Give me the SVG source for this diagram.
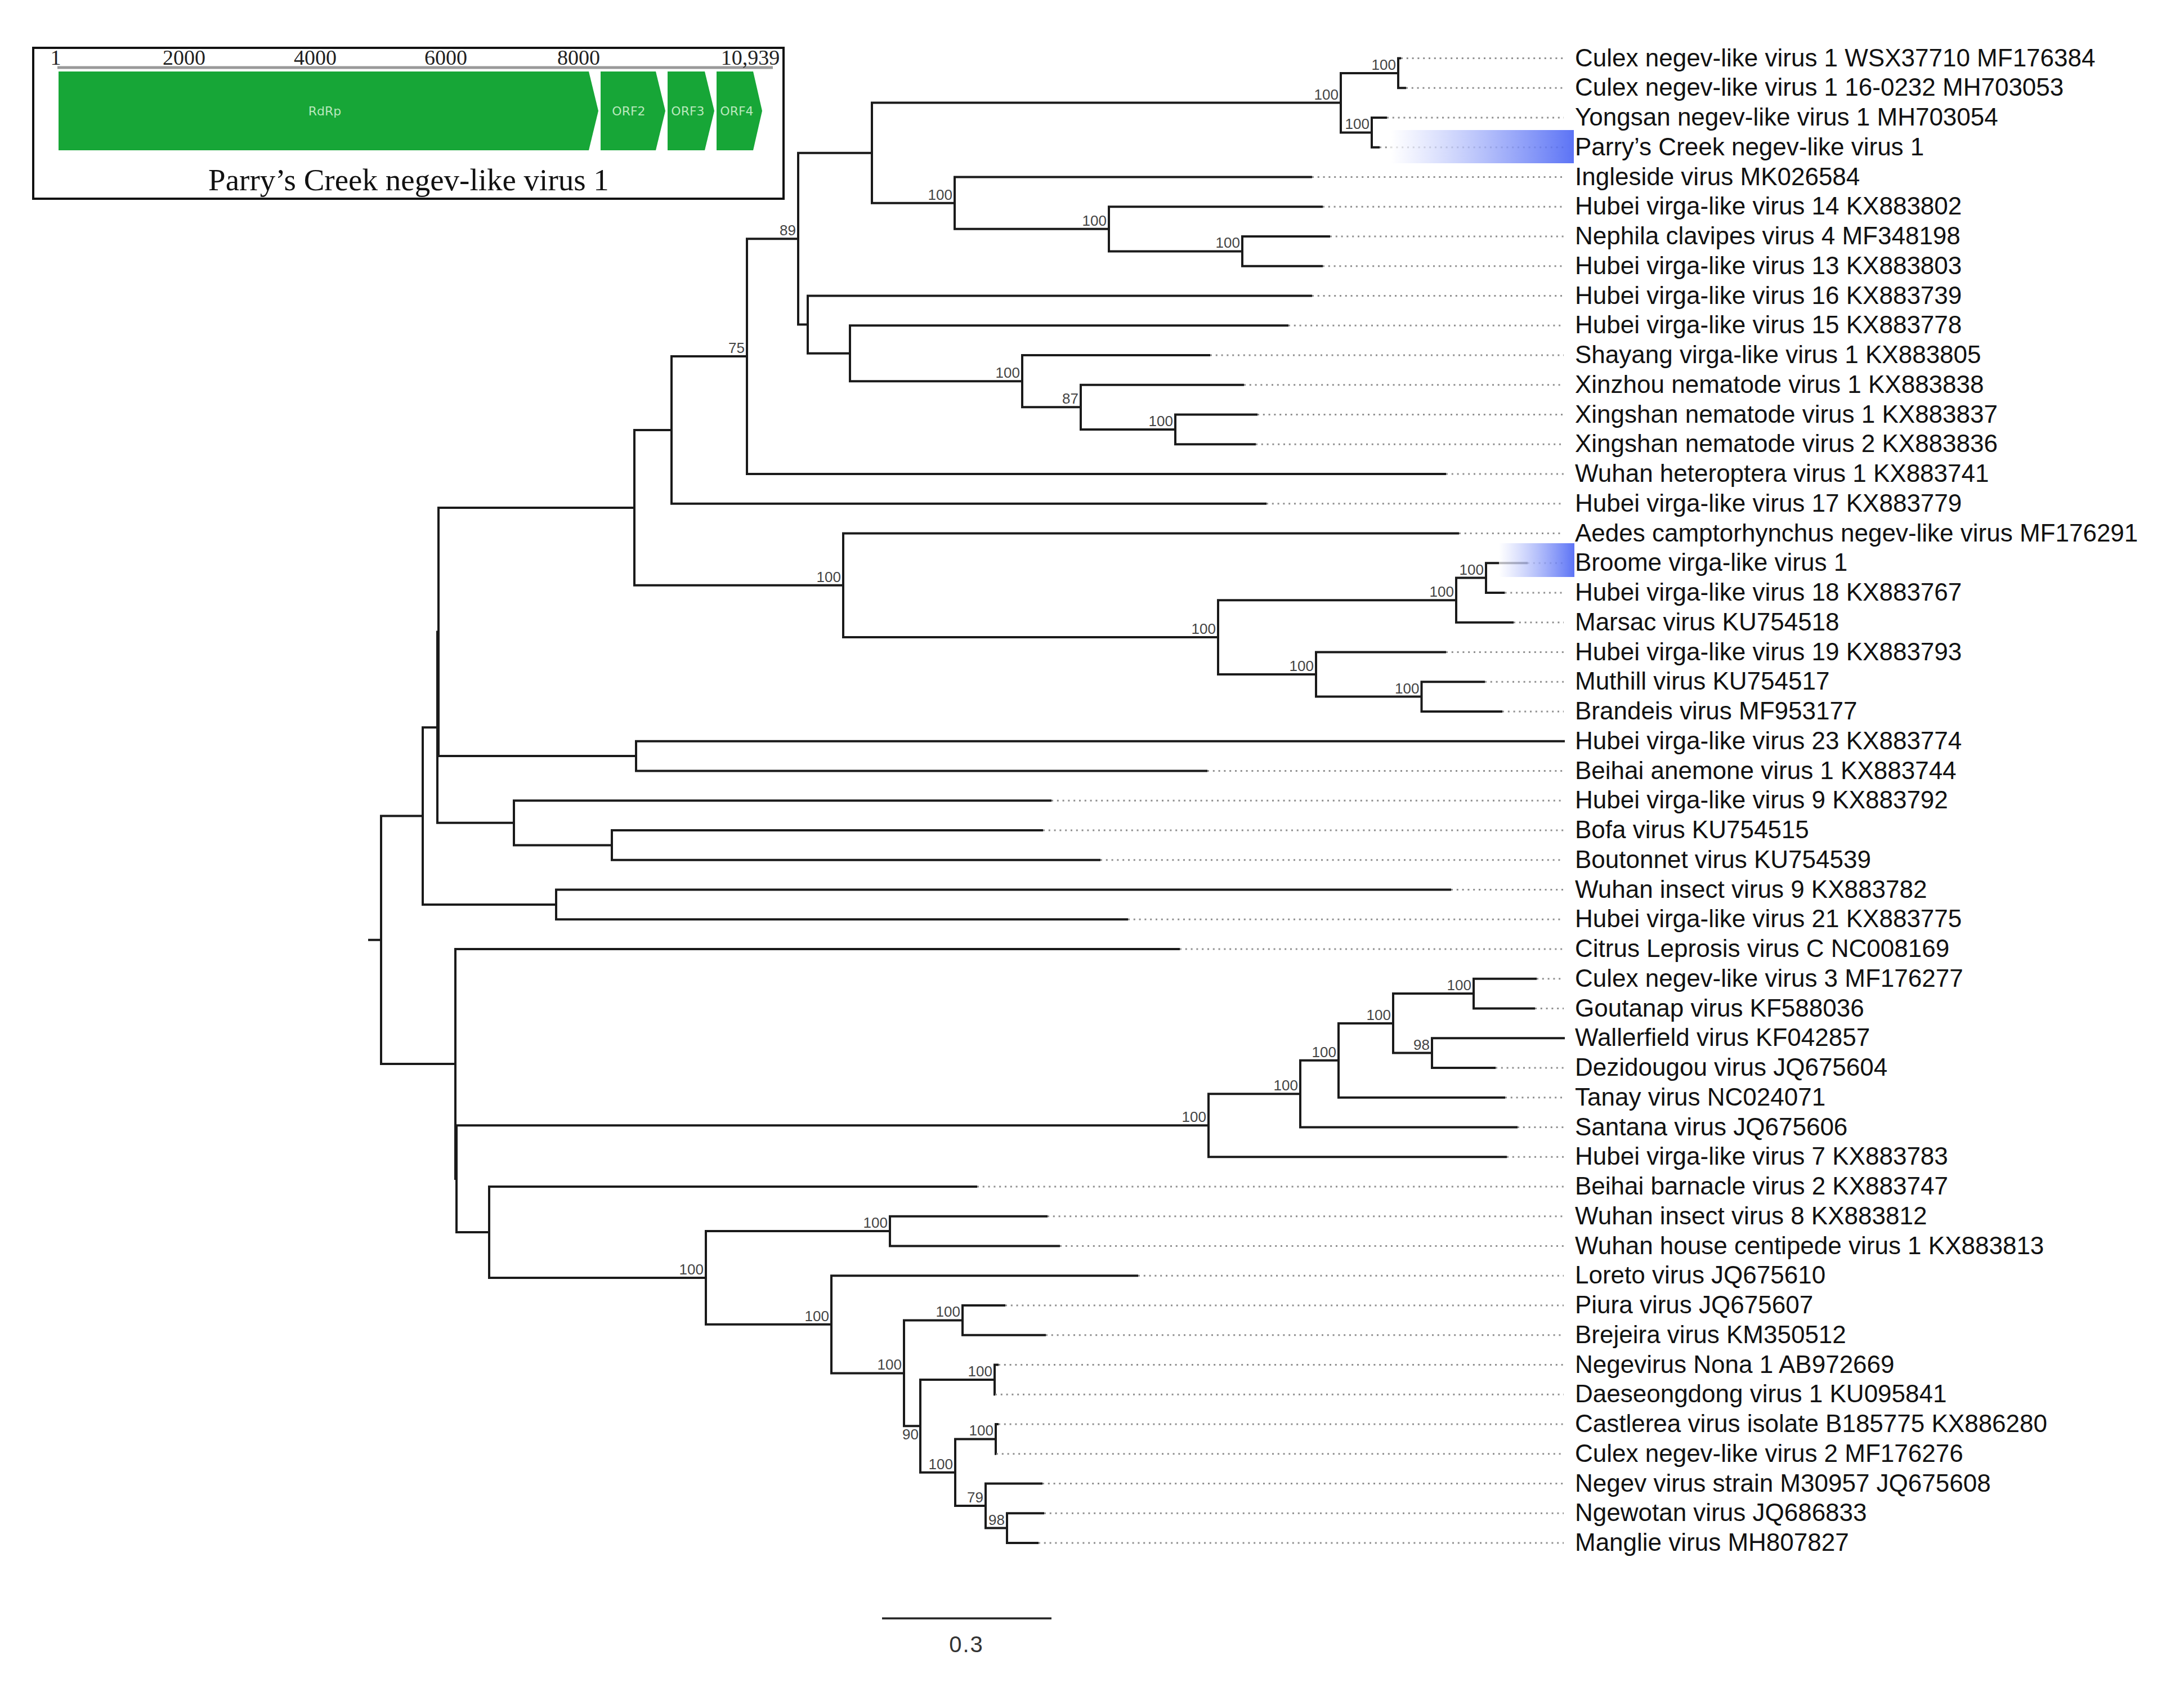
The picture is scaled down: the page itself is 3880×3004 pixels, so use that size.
<svg xmlns="http://www.w3.org/2000/svg" width="3880" height="3004" viewBox="0 0 3880 3004">
<style>
.br{fill:none;stroke:#1a1a1a;stroke-width:4;stroke-linejoin:miter;stroke-linecap:butt}
.dot{fill:none;stroke:#8f8f8f;stroke-width:3;stroke-dasharray:3 6.8}
.lab{font-family:"Liberation Sans",Arial,sans-serif;font-size:44px;fill:#111}
.bs{font-family:"Liberation Sans",Arial,sans-serif;font-size:26px;fill:#444;text-anchor:end}
.tick{font-family:"Liberation Serif","Times New Roman",serif;font-size:38px;fill:#222;text-anchor:middle}
.gene{fill:#17a637}
.gl{font-family:"DejaVu Sans",sans-serif;font-size:22px;fill:#b9e8bd;text-anchor:middle}
</style>
<defs>
<linearGradient id="hl" x1="0" y1="0" x2="1" y2="0">
<stop offset="0" stop-color="#ffffff" stop-opacity="0.7"/>
<stop offset="1" stop-color="#4a64f4" stop-opacity="0.9"/>
</linearGradient>
</defs>
<rect width="3880" height="3004" fill="#ffffff"/>

<g id="inset">
<rect x="59" y="85" width="1333" height="268" fill="#ffffff" stroke="#111" stroke-width="4"/>
<line x1="102" y1="120" x2="1373" y2="120" stroke="#999" stroke-width="5"/>
<text class="tick" x="99" y="115">1</text>
<text class="tick" x="327" y="115">2000</text>
<text class="tick" x="560" y="115">4000</text>
<text class="tick" x="792" y="115">6000</text>
<text class="tick" x="1028" y="115">8000</text>
<text class="tick" x="1333" y="115">10,939</text>
<polygon class="gene" points="104,127 1046,127 1063,197 1046,267 104,267"/>
<polygon class="gene" points="1067,127 1165,127 1182,197 1165,267 1067,267"/>
<polygon class="gene" points="1186,127 1252,127 1269,197 1252,267 1186,267"/>
<polygon class="gene" points="1273,127 1338,127 1354,197 1338,267 1273,267"/>
<text class="gl" x="577" y="205">RdRp</text>
<text class="gl" x="1117" y="205">ORF2</text>
<text class="gl" x="1222" y="205">ORF3</text>
<text class="gl" x="1309" y="205">ORF4</text>
<text x="726" y="338" font-family="Liberation Serif,'Times New Roman',serif" font-size="55" fill="#111" text-anchor="middle">Parry’s Creek negev-like virus 1</text>
</g>

<g id="connectors">
<path class="br" d="M654 1669.8H677 M751 1449.5H677V1890H809"/>
<path class="br" d="M2489 103.5H2484V156.25H2498"/>
<path class="br" d="M2464 209H2437V261.75H2451"/>
<path class="br" d="M2484 129.9H2382V235.4H2437"/>
<path class="br" d="M2363 420H2207V472.75H2350"/>
<path class="br" d="M2350 367.25H1970V446.4H2207"/>
<path class="br" d="M2331 314.5H1696V406.8H1970"/>
<path class="br" d="M2382 182.6H1549V360.7H1696"/>
<path class="br" d="M2234 736.5H2088V789.25H2231"/>
<path class="br" d="M2210 683.75H1920V762.9H2088"/>
<path class="br" d="M2150 631H1816V723.3H1920"/>
<path class="br" d="M2289 578.25H1510V677.2H1816"/>
<path class="br" d="M2331 525.5H1435V627.7H1510"/>
<path class="br" d="M1549 271.7H1418V576.6H1435"/>
<path class="br" d="M1418 424.2H1327V842H2569"/>
<path class="br" d="M1327 633.1H1193V894.75H2250"/>
<path class="br" d="M2714 1000.25H2640V1053H2673.5"/>
<path class="br" d="M2640 1026.6H2587V1105.75H2689"/>
<path class="br" d="M2638 1211.25H2525.5V1264H2669"/>
<path class="br" d="M2569 1158.5H2338V1237.6H2525.5"/>
<path class="br" d="M2587 1066.2H2164V1198.1H2338"/>
<path class="br" d="M2592 947.5H1498V1132.1H2164"/>
<path class="br" d="M1193 763.9H1127V1039.8H1498"/>
<path class="br" d="M2780 1316.75H1130V1369.5H2145"/>
<path class="br" d="M1127 901.9H779V1343.1H1130"/>
<path class="br" d="M1853 1475H1087V1527.75H1955"/>
<path class="br" d="M1868 1422.25H913V1501.4H1087"/>
<path class="br" d="M779 1122.5H777V1461.8H913"/>
<path class="br" d="M2578 1580.5H988V1633.25H2004"/>
<path class="br" d="M777 1292.2H751V1606.9H988"/>
<path class="br" d="M2730 1738.75H2618V1791.5H2727"/>
<path class="br" d="M2780 1844.25H2544V1897H2657"/>
<path class="br" d="M2618 1765.1H2475V1870.6H2544"/>
<path class="br" d="M2475 1817.9H2378V1949.75H2674"/>
<path class="br" d="M2378 1883.8H2310V2002.5H2696"/>
<path class="br" d="M2310 1943.2H2147V2055.25H2677"/>
<path class="br" d="M1861 2160.75H1581V2213.5H1883"/>
<path class="br" d="M1786 2319H1710V2371.75H1858"/>
<path class="br" d="M1774 2424.5H1767V2477.25H1768"/>
<path class="br" d="M1774 2530H1769V2582.75H1770"/>
<path class="br" d="M1855 2688.25H1789V2741H1845"/>
<path class="br" d="M1852 2635.5H1751V2714.6H1789"/>
<path class="br" d="M1769 2556.4H1697V2675.1H1751"/>
<path class="br" d="M1767 2450.9H1635V2615.8H1697"/>
<path class="br" d="M1710 2345.4H1606V2533.3H1635"/>
<path class="br" d="M2022 2266.25H1477V2439.4H1606"/>
<path class="br" d="M1581 2187.1H1254V2352.8H1477"/>
<path class="br" d="M1736 2108H869V2270H1254"/>
<path class="br" d="M2147 1999.2H811V2189H869"/>
<path class="br" d="M2096 1686H809V2094.1H811"/>
<path class="dot" d="M2489 103.5H2778 M2498 156.25H2778 M2464 209H2778 M2451 261.75H2778 M2331 314.5H2778 M2350 367.25H2778 M2363 420H2778 M2350 472.75H2778 M2331 525.5H2778 M2289 578.25H2778 M2150 631H2778 M2210 683.75H2778 M2234 736.5H2778 M2231 789.25H2778 M2569 842H2778 M2250 894.75H2778 M2592 947.5H2778 M2714 1000.25H2778 M2673.5 1053H2778 M2689 1105.75H2778 M2569 1158.5H2778 M2638 1211.25H2778 M2669 1264H2778 M2145 1369.5H2778 M1868 1422.25H2778 M1853 1475H2778 M1955 1527.75H2778 M2578 1580.5H2778 M2004 1633.25H2778 M2096 1686H2778 M2730 1738.75H2778 M2727 1791.5H2778 M2657 1897H2778 M2674 1949.75H2778 M2696 2002.5H2778 M2677 2055.25H2778 M1736 2108H2778 M1861 2160.75H2778 M1883 2213.5H2778 M2022 2266.25H2778 M1786 2319H2778 M1858 2371.75H2778 M1774 2424.5H2778 M1768 2477.25H2778 M1774 2530H2778 M1770 2582.75H2778 M1852 2635.5H2778 M1855 2688.25H2778 M1845 2741H2778"/>
</g>

<g id="highlights">
<rect x="2471" y="231" width="325" height="59" fill="url(#hl)"/>
<rect x="2663" y="965" width="134" height="60" fill="url(#hl)"/>
</g>

<g id="bootstrap">
<text class="bs" x="2480" y="123.9">100</text>
<text class="bs" x="2378" y="176.6">100</text>
<text class="bs" x="2433" y="229.4">100</text>
<text class="bs" x="1692" y="354.7">100</text>
<text class="bs" x="1966" y="400.8">100</text>
<text class="bs" x="2203" y="440.4">100</text>
<text class="bs" x="1414" y="418.2">89</text>
<text class="bs" x="1323" y="627.1">75</text>
<text class="bs" x="1812" y="671.2">100</text>
<text class="bs" x="1916" y="717.3">87</text>
<text class="bs" x="2084" y="756.9">100</text>
<text class="bs" x="1494" y="1033.8">100</text>
<text class="bs" x="2160" y="1126.1">100</text>
<text class="bs" x="2583" y="1060.2">100</text>
<text class="bs" x="2636" y="1020.6">100</text>
<text class="bs" x="2334" y="1192.1">100</text>
<text class="bs" x="2521.5" y="1231.6">100</text>
<text class="bs" x="2143" y="1993.2">100</text>
<text class="bs" x="2306" y="1937.2">100</text>
<text class="bs" x="2374" y="1877.8">100</text>
<text class="bs" x="2471" y="1811.9">100</text>
<text class="bs" x="2614" y="1759.1">100</text>
<text class="bs" x="2540" y="1864.6">98</text>
<text class="bs" x="1577" y="2181.1">100</text>
<text class="bs" x="1250" y="2264">100</text>
<text class="bs" x="1473" y="2346.8">100</text>
<text class="bs" x="1602" y="2433.4">100</text>
<text class="bs" x="1706" y="2339.4">100</text>
<text class="bs" x="1632" y="2557">90</text>
<text class="bs" x="1763" y="2444.9">100</text>
<text class="bs" x="1693" y="2609.8">100</text>
<text class="bs" x="1765" y="2550.4">100</text>
<text class="bs" x="1747" y="2669.1">79</text>
<text class="bs" x="1785" y="2708.6">98</text>
</g>

<g id="leaf-01"><text class="lab" x="2798" y="117.5">Culex negev-like virus 1 WSX37710 MF176384</text></g>
<g id="leaf-02"><text class="lab" x="2798" y="170.25">Culex negev-like virus 1 16-0232 MH703053</text></g>
<g id="leaf-03"><text class="lab" x="2798" y="223">Yongsan negev-like virus 1 MH703054</text></g>
<g id="leaf-04"><text class="lab" x="2798" y="275.75">Parry’s Creek negev-like virus 1</text></g>
<g id="leaf-05"><text class="lab" x="2798" y="328.5">Ingleside virus MK026584</text></g>
<g id="leaf-06"><text class="lab" x="2798" y="381.25">Hubei virga-like virus 14 KX883802</text></g>
<g id="leaf-07"><text class="lab" x="2798" y="434">Nephila clavipes virus 4 MF348198</text></g>
<g id="leaf-08"><text class="lab" x="2798" y="486.75">Hubei virga-like virus 13 KX883803</text></g>
<g id="leaf-09"><text class="lab" x="2798" y="539.5">Hubei virga-like virus 16 KX883739</text></g>
<g id="leaf-10"><text class="lab" x="2798" y="592.25">Hubei virga-like virus 15 KX883778</text></g>
<g id="leaf-11"><text class="lab" x="2798" y="645">Shayang virga-like virus 1 KX883805</text></g>
<g id="leaf-12"><text class="lab" x="2798" y="697.75">Xinzhou nematode virus 1 KX883838</text></g>
<g id="leaf-13"><text class="lab" x="2798" y="750.5">Xingshan nematode virus 1 KX883837</text></g>
<g id="leaf-14"><text class="lab" x="2798" y="803.25">Xingshan nematode virus 2 KX883836</text></g>
<g id="leaf-15"><text class="lab" x="2798" y="856">Wuhan heteroptera virus 1 KX883741</text></g>
<g id="leaf-16"><text class="lab" x="2798" y="908.75">Hubei virga-like virus 17 KX883779</text></g>
<g id="leaf-17"><text class="lab" x="2798" y="961.5">Aedes camptorhynchus negev-like virus MF176291</text></g>
<g id="leaf-18"><text class="lab" x="2798" y="1014.25">Broome virga-like virus 1</text></g>
<g id="leaf-19"><text class="lab" x="2798" y="1067">Hubei virga-like virus 18 KX883767</text></g>
<g id="leaf-20"><text class="lab" x="2798" y="1119.75">Marsac virus KU754518</text></g>
<g id="leaf-21"><text class="lab" x="2798" y="1172.5">Hubei virga-like virus 19 KX883793</text></g>
<g id="leaf-22"><text class="lab" x="2798" y="1225.25">Muthill virus KU754517</text></g>
<g id="leaf-23"><text class="lab" x="2798" y="1278">Brandeis virus MF953177</text></g>
<g id="leaf-24"><text class="lab" x="2798" y="1330.75">Hubei virga-like virus 23 KX883774</text></g>
<g id="leaf-25"><text class="lab" x="2798" y="1383.5">Beihai anemone virus 1 KX883744</text></g>
<g id="leaf-26"><text class="lab" x="2798" y="1436.25">Hubei virga-like virus 9 KX883792</text></g>
<g id="leaf-27"><text class="lab" x="2798" y="1489">Bofa virus KU754515</text></g>
<g id="leaf-28"><text class="lab" x="2798" y="1541.75">Boutonnet virus KU754539</text></g>
<g id="leaf-29"><text class="lab" x="2798" y="1594.5">Wuhan insect virus 9 KX883782</text></g>
<g id="leaf-30"><text class="lab" x="2798" y="1647.25">Hubei virga-like virus 21 KX883775</text></g>
<g id="leaf-31"><text class="lab" x="2798" y="1700">Citrus Leprosis virus C NC008169</text></g>
<g id="leaf-32"><text class="lab" x="2798" y="1752.75">Culex negev-like virus 3 MF176277</text></g>
<g id="leaf-33"><text class="lab" x="2798" y="1805.5">Goutanap virus KF588036</text></g>
<g id="leaf-34"><text class="lab" x="2798" y="1858.25">Wallerfield virus KF042857</text></g>
<g id="leaf-35"><text class="lab" x="2798" y="1911">Dezidougou virus JQ675604</text></g>
<g id="leaf-36"><text class="lab" x="2798" y="1963.75">Tanay virus NC024071</text></g>
<g id="leaf-37"><text class="lab" x="2798" y="2016.5">Santana virus JQ675606</text></g>
<g id="leaf-38"><text class="lab" x="2798" y="2069.25">Hubei virga-like virus 7 KX883783</text></g>
<g id="leaf-39"><text class="lab" x="2798" y="2122">Beihai barnacle virus 2 KX883747</text></g>
<g id="leaf-40"><text class="lab" x="2798" y="2174.75">Wuhan insect virus 8 KX883812</text></g>
<g id="leaf-41"><text class="lab" x="2798" y="2227.5">Wuhan house centipede virus 1 KX883813</text></g>
<g id="leaf-42"><text class="lab" x="2798" y="2280.25">Loreto virus JQ675610</text></g>
<g id="leaf-43"><text class="lab" x="2798" y="2333">Piura virus JQ675607</text></g>
<g id="leaf-44"><text class="lab" x="2798" y="2385.75">Brejeira virus KM350512</text></g>
<g id="leaf-45"><text class="lab" x="2798" y="2438.5">Negevirus Nona 1 AB972669</text></g>
<g id="leaf-46"><text class="lab" x="2798" y="2491.25">Daeseongdong virus 1 KU095841</text></g>
<g id="leaf-47"><text class="lab" x="2798" y="2544">Castlerea virus isolate B185775 KX886280</text></g>
<g id="leaf-48"><text class="lab" x="2798" y="2596.75">Culex negev-like virus 2 MF176276</text></g>
<g id="leaf-49"><text class="lab" x="2798" y="2649.5">Negev virus strain M30957 JQ675608</text></g>
<g id="leaf-50"><text class="lab" x="2798" y="2702.25">Ngewotan virus JQ686833</text></g>
<g id="leaf-51"><text class="lab" x="2798" y="2755">Manglie virus MH807827</text></g>

<g id="scale-bar">
<line x1="1567" y1="2875" x2="1868" y2="2875" stroke="#222" stroke-width="3.5"/>
<text x="1717" y="2935" font-family="Liberation Sans,Arial,sans-serif" font-size="40" fill="#333" text-anchor="middle" letter-spacing="2">0.3</text>
</g>
</svg>
